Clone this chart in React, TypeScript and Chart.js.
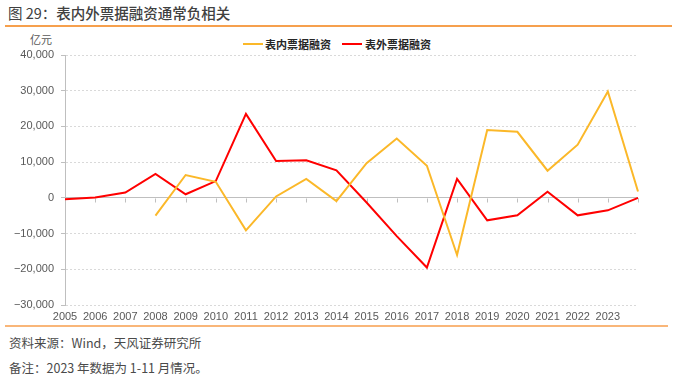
import React, { useEffect, useRef } from "react";
import { Chart, registerables } from "chart.js";

Chart.register(...registerables);

const categories = [
  "2005", "2006", "2007", "2008", "2009", "2010", "2011", "2012", "2013", "2014",
  "2015", "2016", "2017", "2018", "2019", "2020", "2021", "2022", "2023", "",
];
const onBalanceBills = [
  null, null, null, -5000, 6400, 4500, -9100, 400, 5300, -900,
  9700, 16600, 9000, -16000, 19000, 18500, 7600, 14900, 29800, 1800,
];
const offBalanceBills = [
  -400, 100, 1500, 6700, 1000, 4700, 23500, 10300, 10500, 7700,
  -1300, -10700, -19500, 5300, -6300, -4900, 1700, -4900, -3500, 0,
];
const yMin = -30000;
const yMax = 40000;
const yStep = 10000;

const seriesNames = ["表内票据融资", "表外票据融资"];
const seriesColors = ["#FBB829", "#FF0000"];

const FONT = "'Liberation Sans', Arial, 'Noto Sans CJK SC', sans-serif";
const CJK = "'Noto Sans CJK SC', 'Liberation Sans', sans-serif";

const zeroTicks = {
  id: "zeroTicks",
  beforeDatasetsDraw(chart: any) {
    const { ctx, scales } = chart;
    const x = scales.x;
    const y = scales.y;
    const y0 = Math.round(y.getPixelForValue(0)) + 0.5;
    ctx.save();
    ctx.strokeStyle = "#bfbfbf";
    ctx.lineWidth = 1;
    for (let i = 0; i < categories.length; i++) {
      const px = Math.round(x.getPixelForValue(i)) + 0.5;
      ctx.beginPath();
      ctx.moveTo(px, y0);
      ctx.lineTo(px, y0 + 4);
      ctx.stroke();
    }
    ctx.restore();
  },
};

function fmt(v: number) {
  return Number(v).toLocaleString("en-US").replace("-", "−");
}

export default function App() {
  const ref = useRef<HTMLCanvasElement | null>(null);

  useEffect(() => {
    if (!ref.current) return;
    const chart = new Chart(ref.current, {
      type: "line",
      data: {
        labels: categories,
        datasets: [
          {
            label: seriesNames[0],
            data: onBalanceBills,
            borderColor: seriesColors[0],
            backgroundColor: seriesColors[0],
            borderWidth: 2,
            pointRadius: 0,
            tension: 0,
          },
          {
            label: seriesNames[1],
            data: offBalanceBills,
            borderColor: seriesColors[1],
            backgroundColor: seriesColors[1],
            borderWidth: 2,
            pointRadius: 0,
            tension: 0,
          },
        ],
      },
      options: {
        responsive: false,
        animation: false,
        layout: { padding: { left: 0, right: 62, top: 25, bottom: 0 } },
        plugins: {
          legend: { display: false },
          tooltip: { enabled: false },
        },
        scales: {
          x: {
            type: "category",
            offset: false,
            grid: { display: false, drawTicks: false },
            border: { display: false },
            ticks: {
              autoSkip: false,
              maxRotation: 0,
              minRotation: 0,
              padding: 5,
              color: "#595959",
              font: { family: FONT, size: 11 },
            },
            afterFit(scale: any) {
              scale.height = 20;
            },
          },
          y: {
            min: yMin,
            max: yMax,
            ticks: {
              stepSize: yStep,
              padding: 7,
              color: "#595959",
              font: { family: FONT, size: 11 },
              callback: (v: any) => fmt(v),
            },
            grid: {
              color: (c: any) => (c.tick && c.tick.value === 0 ? "#bfbfbf" : "#d9d9d9"),
              tickLength: 4,
              tickColor: "#bfbfbf",
              drawTicks: true,
            },
            border: {
              display: true,
              color: "#bfbfbf",
              dash: (c: any) => (c.tick && c.tick.value === 0 ? [] : [2, 2]),
            },
            afterFit(scale: any) {
              scale.width = 65;
            },
          },
        },
      } as any,
      plugins: [zeroTicks],
    });
    return () => chart.destroy();
  }, []);

  return (
    <div
      style={{
        position: "absolute",
        left: 0,
        top: 0,
        width: 700,
        height: 381,
        background: "#fff",
        overflow: "hidden",
      }}
    >
      <div
        style={{
          position: "absolute",
          left: 8,
          top: 4,
          fontFamily: CJK,
          fontSize: 14.5,
          color: "#404040",
          whiteSpace: "nowrap",
          lineHeight: "18px",
        }}
      >
        <span style={{ fontWeight: 400 }}>图 29：</span>
        <span style={{ fontWeight: 500 }}>表内外票据融资通常负相关</span>
      </div>
      <div style={{ position: "absolute", left: 5, top: 25, width: 667, height: 2, background: "#F6A04D" }} />

      <div
        style={{
          position: "absolute",
          left: 30,
          top: 32,
          fontFamily: CJK,
          fontSize: 11,
          color: "#595959",
          lineHeight: "14px",
        }}
      >
        亿元
      </div>

      <div style={{ position: "absolute", left: 243, top: 43, width: 20, height: 2, background: seriesColors[0] }} />
      <div
        style={{
          position: "absolute",
          left: 265,
          top: 37,
          fontFamily: CJK,
          fontSize: 11,
          fontWeight: 700,
          color: "#262626",
          lineHeight: "14px",
          whiteSpace: "nowrap",
        }}
      >
        {seriesNames[0]}
      </div>
      <div style={{ position: "absolute", left: 342, top: 43, width: 20, height: 2, background: seriesColors[1] }} />
      <div
        style={{
          position: "absolute",
          left: 365,
          top: 37,
          fontFamily: CJK,
          fontSize: 11,
          fontWeight: 700,
          color: "#262626",
          lineHeight: "14px",
          whiteSpace: "nowrap",
        }}
      >
        {seriesNames[1]}
      </div>

      <canvas
        ref={ref}
        width={700}
        height={295}
        style={{ position: "absolute", left: 0, top: 30, width: 700, height: 295 }}
      />

      <div style={{ position: "absolute", left: 5, top: 325, width: 663, height: 2, background: "#F9B679" }} />
      <div
        style={{
          position: "absolute",
          left: 9,
          top: 335,
          fontFamily: CJK,
          fontSize: 12.5,
          color: "#4a4a4a",
          lineHeight: "16px",
          whiteSpace: "nowrap",
        }}
      >
        资料来源：Wind，天风证券研究所
      </div>
      <div
        style={{
          position: "absolute",
          left: 9,
          top: 360,
          fontFamily: CJK,
          fontSize: 12.5,
          color: "#4a4a4a",
          lineHeight: "16px",
          whiteSpace: "nowrap",
        }}
      >
        备注：2023 年数据为 1-11 月情况。
      </div>
    </div>
  );
}
